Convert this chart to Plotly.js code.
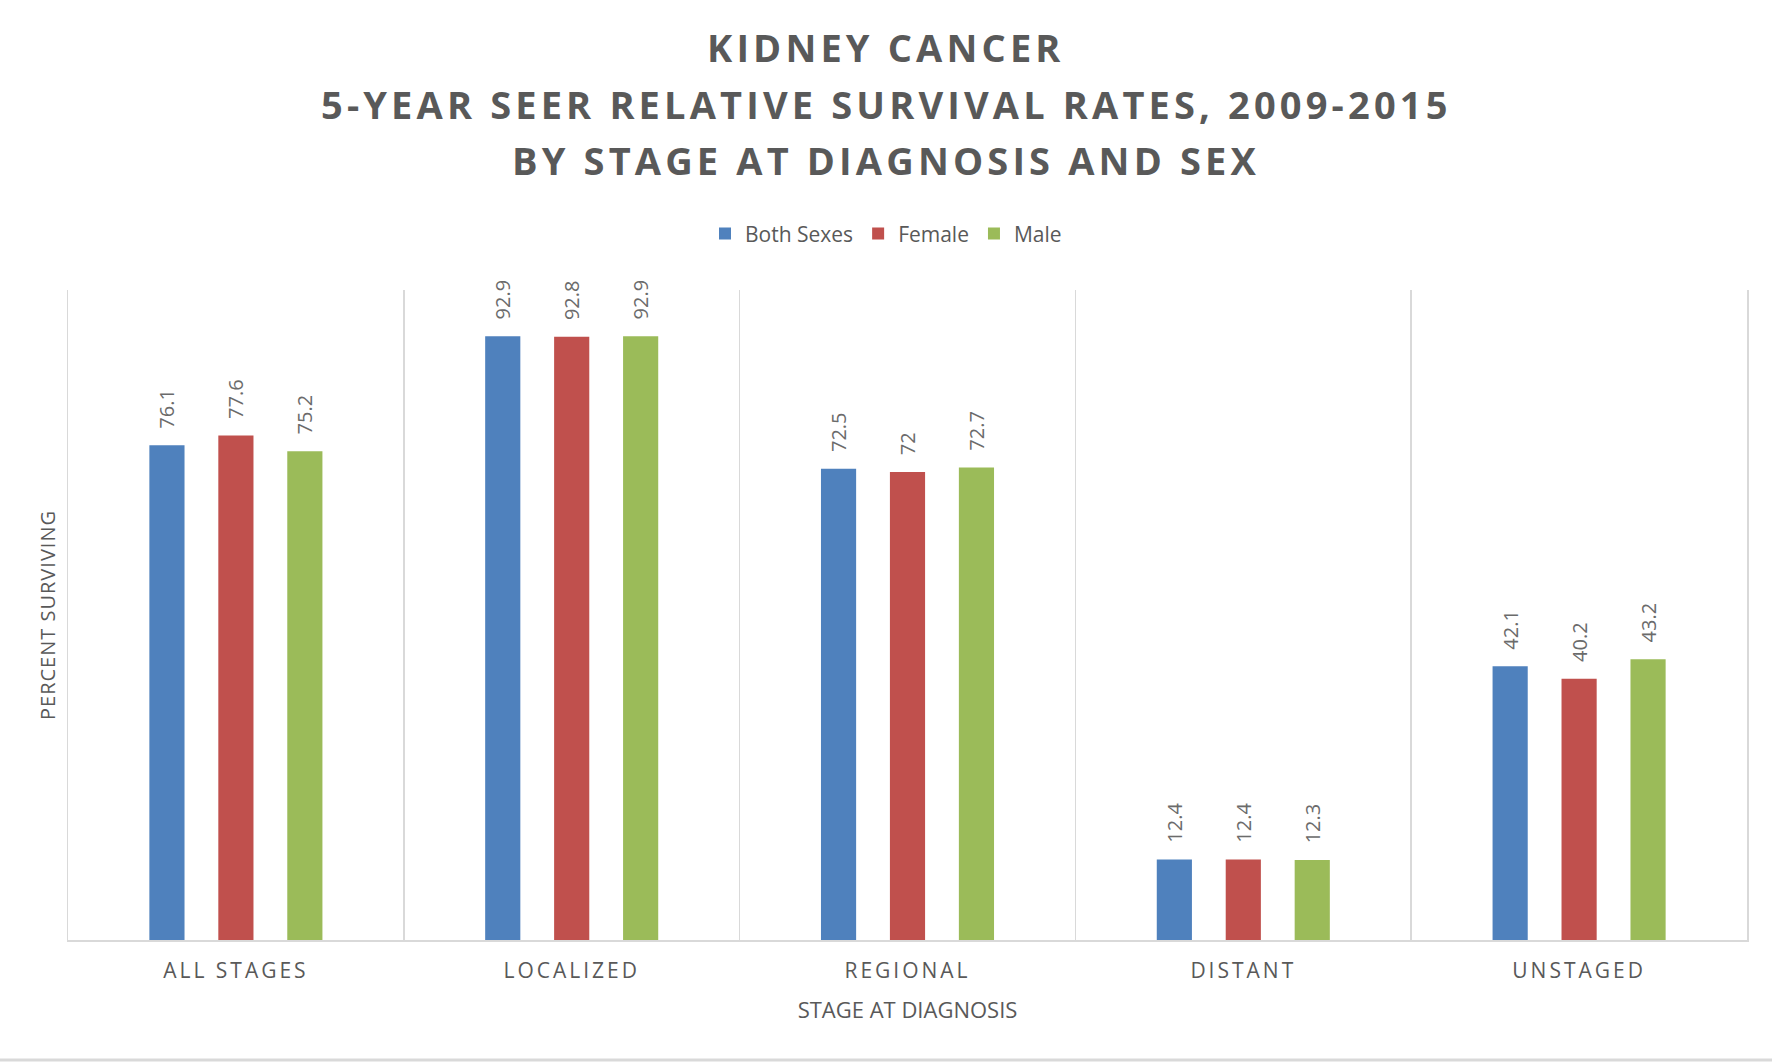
<!DOCTYPE html>
<html>
<head>
<meta charset="utf-8">
<script src="https://cdn.plot.ly/plotly-3.0.1.min.js"></script>
<style>
  html, body { margin: 0; padding: 0; background: #fff; }
  #chart { width: 1772px; height: 1062px; }
  .annotation-text { letter-spacing: 4.15px; }
  .xtick text { letter-spacing: 3px; }
  .ytitle { letter-spacing: 1px; }
</style>
</head>
<body>
<div id="chart"></div>
<script>
// ---- data ----
const stages = ["ALL STAGES", "LOCALIZED", "REGIONAL", "DISTANT", "UNSTAGED"];
const bothSexes = [76.1, 92.9, 72.5, 12.4, 42.1];
const female = [77.6, 92.8, 72, 12.4, 40.2];
const male = [75.2, 92.9, 72.7, 12.3, 43.2];
const seriesNames = ["Both Sexes", "Female", "Male"];
const titleLines = [
  "KIDNEY CANCER",
  "5-YEAR SEER RELATIVE SURVIVAL RATES, 2009-2015",
  "BY STAGE AT DIAGNOSIS AND SEX"
];
const xTitle = "STAGE AT DIAGNOSIS";
const yTitle = "PERCENT SURVIVING";

// ---- styles ----
const colors = ["#4f81bd", "#c0504d", "#9bbb59"];
const textGray = "#595959";
const gridGray = "#d9d9d9";

const seriesValues = [bothSexes, female, male];
const traces = seriesValues.map((vals, i) => ({
  type: "bar",
  name: seriesNames[i],
  x: stages,
  y: vals,
  marker: { color: colors[i] },
  texttemplate: "\u00a0\u00a0\u2009%{y}",
  textposition: "outside",
  textangle: -90,
  constraintext: "none",
  cliponaxis: false,
  textfont: { family: "Open Sans", size: 20, color: "#6b6b6b" },
  hoverinfo: "x+y+name"
}));

const titleY = [1.3738, 1.2868, 1.1999];
const annotations = titleLines.map((t, i) => ({
  text: t,
  xref: "paper", yref: "paper",
  x: 0.4872, y: titleY[i],
  xanchor: "center", yanchor: "middle",
  showarrow: false,
  font: { family: "Open Sans", size: 38, color: textGray, weight: 700 }
}));

const layout = {
  width: 1772,
  height: 1062,
  paper_bgcolor: "#ffffff",
  plot_bgcolor: "#ffffff",
  margin: { l: 68, r: 25, t: 290, b: 122 },
  barmode: "group",
  bargap: 0.384,
  bargroupgap: 0.49,
  showlegend: true,
  legend: {
    orientation: "h",
    xref: "container", yref: "container",
    x: 0.5, y: 0.7797,
    xanchor: "center", yanchor: "middle",
    font: { family: "Open Sans", size: 21, color: textGray },
    itemwidth: 30
  },
  xaxis: {
    type: "category",
    range: [-0.5, 4.5],
    tickson: "boundaries",
    showgrid: true,
    gridcolor: gridGray,
    gridwidth: 1.5,
    showline: true,
    linecolor: gridGray,
    linewidth: 2,
    ticks: "",
    ticklabelstandoff: 11,
    tickfont: { family: "Open Sans", size: 21, color: textGray },
    title: { text: xTitle, font: { family: "Open Sans", size: 22, color: textGray }, standoff: 19 },
    fixedrange: true
  },
  yaxis: {
    range: [0, 100],
    autorange: false,
    showgrid: false,
    zeroline: false,
    showline: true,
    mirror: true,
    linecolor: gridGray,
    linewidth: 1.5,
    showticklabels: false,
    ticks: "",
    title: { text: yTitle, font: { family: "Open Sans", size: 20, color: textGray }, standoff: 5 },
    fixedrange: true
  },
  annotations: annotations,
  shapes: [{
    type: "line", xref: "paper", yref: "paper",
    x0: -0.0405, x1: 1.015, y0: -0.1846, y1: -0.1846,
    line: { color: gridGray, width: 3 }
  }]
};

Plotly.newPlot("chart", traces, layout, { displayModeBar: false, staticPlot: true });
</script>
</body>
</html>
